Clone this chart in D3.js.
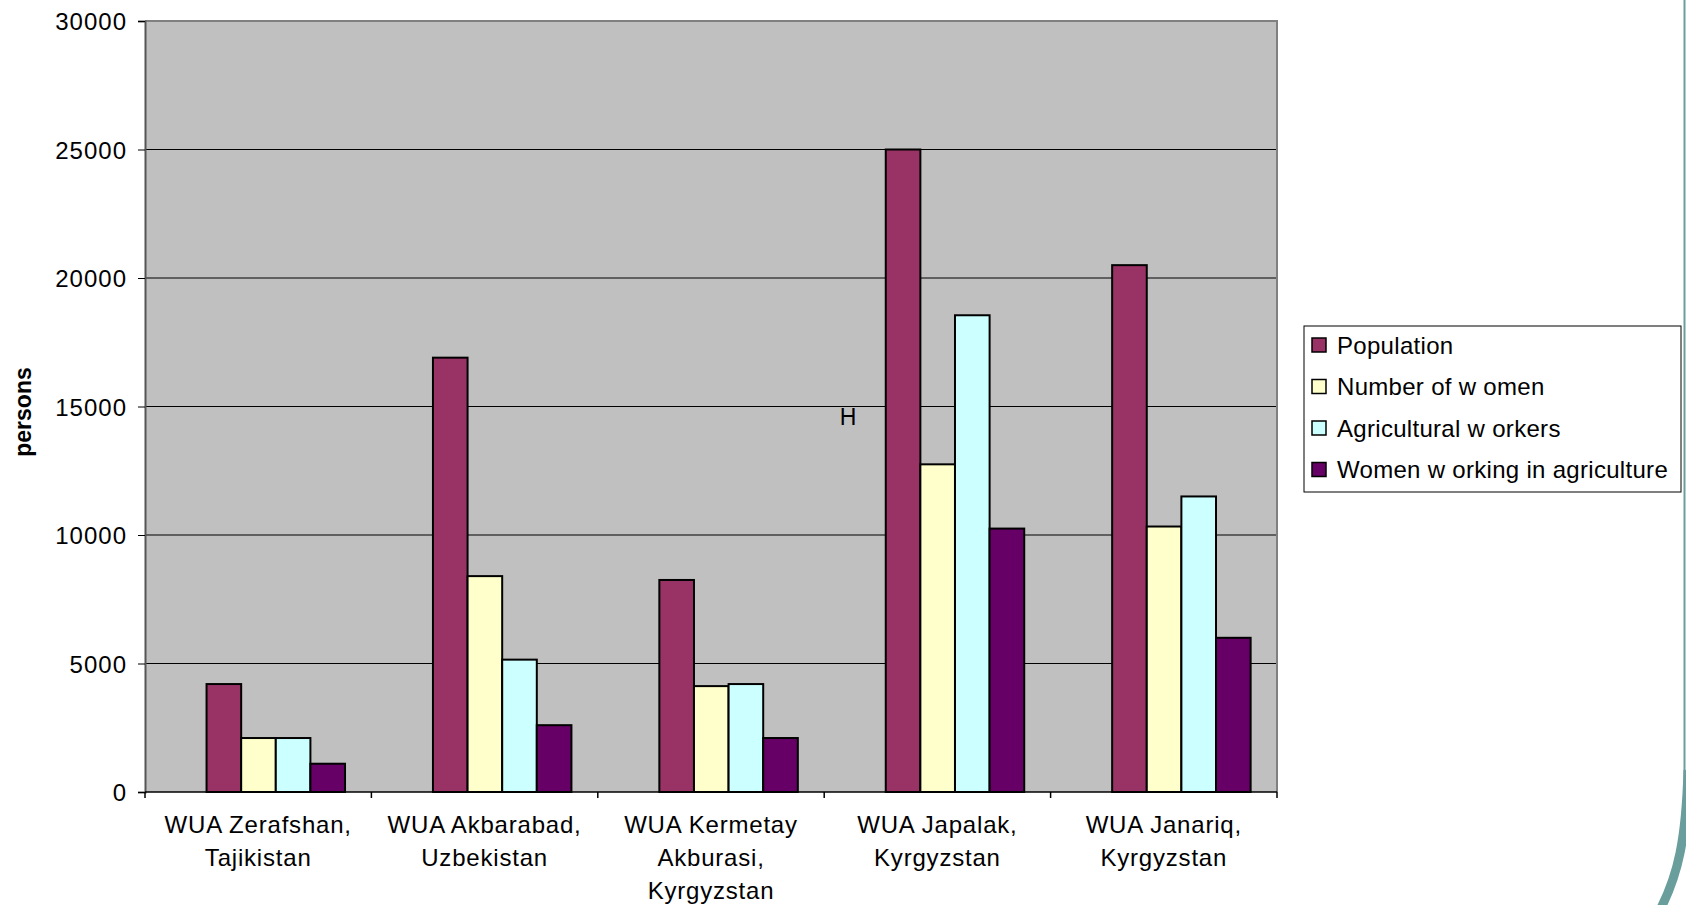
<!DOCTYPE html>
<html>
<head>
<meta charset="utf-8">
<script src="https://cdn.jsdelivr.net/npm/d3@7"></script>
<style>
  html, body { margin: 0; padding: 0; background: #fff; }
  svg { display: block; font-family: "Liberation Sans", Arial, sans-serif; }
</style>
</head>
<body>
<svg width="1686" height="905"></svg>
<script>
// data
var categories = [
    ["WUA Zerafshan,", "Tajikistan"],
    ["WUA Akbarabad,", "Uzbekistan"],
    ["WUA Kermetay", "Akburasi,", "Kyrgyzstan"],
    ["WUA Japalak,", "Kyrgyzstan"],
    ["WUA Janariq,", "Kyrgyzstan"]
];
var seriesNames = ["Population", "Number of w omen", "Agricultural w orkers", "Women w orking in agriculture"];
var seriesColors = ["#993366", "#FFFFCC", "#CCFFFF", "#660066"];

var population = [4200, 16900, 8250, 25000, 20500];
var numberOfWomen = [2100, 8400, 4120, 12750, 10330];
var agriWorkers = [2100, 5150, 4200, 18550, 11500];
var womenInAgri = [1100, 2600, 2100, 10250, 6000];

var yTicks = [0, 5000, 10000, 15000, 20000, 25000, 30000];

var series = [population, numberOfWomen, agriWorkers, womenInAgri];

/* layout */
var svg = d3.select("svg");
var plot = { left: 145, right: 1277, top: 21, bottom: 792 };

var x0 = d3.scaleBand()
    .domain(d3.range(categories.length))
    .range([plot.left, plot.right])
    .padding(0);

// bars sit a little right of the category centre, as in the original
var x1 = d3.scaleBand()
    .domain(d3.range(series.length))
    .range([0, x0.bandwidth()])
    .paddingInner(0)
    .paddingOuter(1.27)
    .align(0.7);

var y = d3.scaleLinear()
    .domain([0, 30000])
    .range([plot.bottom, plot.top]);

// plot background
svg.append("rect")
    .attr("x", plot.left).attr("y", plot.top)
    .attr("width", plot.right - plot.left)
    .attr("height", plot.bottom - plot.top)
    .attr("fill", "#C0C0C0");

// gridlines
svg.append("g")
    .selectAll("line")
    .data(yTicks.filter(function (d) { return d > 0 && d < 30000; }))
    .join("line")
    .attr("x1", plot.left).attr("x2", plot.right)
    .attr("y1", function (d) { return y(d); })
    .attr("y2", function (d) { return y(d); })
    .attr("stroke", "#000")
    .attr("stroke-width", 1);

// plot border top/right
svg.append("path")
    .attr("d", "M" + plot.left + "," + plot.top + "H" + plot.right + "V" + plot.bottom)
    .attr("fill", "none")
    .attr("stroke", "#808080")
    .attr("stroke-width", 2);

// bars
var groups = svg.append("g")
    .selectAll("g")
    .data(categories)
    .join("g")
    .attr("transform", function (d, i) { return "translate(" + x0(i) + ",0)"; });

groups.selectAll("rect")
    .data(function (d, i) { return series.map(function (s, j) { return { s: j, v: s[i] }; }); })
    .join("rect")
    .attr("x", function (d) { return x1(d.s); })
    .attr("width", x1.bandwidth())
    .attr("y", function (d) { return y(d.v); })
    .attr("height", function (d) { return y(0) - y(d.v); })
    .attr("fill", function (d) { return seriesColors[d.s]; })
    .attr("stroke", "#000")
    .attr("stroke-width", 2);

// y axis
var yAxis = svg.append("g")
    .attr("transform", "translate(" + plot.left + ",0)")
    .call(d3.axisLeft(y).tickValues(yTicks).tickSize(7).tickPadding(11).tickFormat(d3.format("d")));
yAxis.select(".domain").attr("stroke", "#555").attr("stroke-width", 2);
yAxis.selectAll(".tick line").attr("stroke", "#000");
yAxis.selectAll(".tick text")
    .attr("font-size", 24)
    .attr("letter-spacing", 1)
    .attr("fill", "#000")
    .attr("font-family", "'Liberation Sans', Arial, sans-serif")
    .attr("dy", "0.36em");

// x axis
svg.append("line")
    .attr("x1", plot.left).attr("x2", plot.right)
    .attr("y1", plot.bottom).attr("y2", plot.bottom)
    .attr("stroke", "#000").attr("stroke-width", 1.5);

svg.append("g")
    .selectAll("line")
    .data(d3.range(categories.length + 1))
    .join("line")
    .attr("x1", function (i) { return plot.left + i * x0.step(); })
    .attr("x2", function (i) { return plot.left + i * x0.step(); })
    .attr("y1", plot.bottom).attr("y2", plot.bottom + 6)
    .attr("stroke", "#000").attr("stroke-width", 1.5);

var xLabels = svg.append("g")
    .selectAll("text")
    .data(categories)
    .join("text")
    .attr("x", function (d, i) { return x0(i) + x0.bandwidth() / 2; })
    .attr("y", 833)
    .attr("text-anchor", "middle")
    .attr("font-size", 24)
    .attr("letter-spacing", 0.8)
    .attr("fill", "#000");

xLabels.selectAll("tspan")
    .data(function (d) { return d; })
    .join("tspan")
    .attr("x", function () { return d3.select(this.parentNode).attr("x"); })
    .attr("dy", function (d, i) { return i === 0 ? 0 : 33; })
    .text(function (d) { return d; });

// y axis title
svg.append("text")
    .attr("transform", "translate(31,412) rotate(-90)")
    .attr("text-anchor", "middle")
    .attr("font-size", 23)
    .attr("font-weight", "bold")
    .attr("fill", "#000")
    .text("persons");

// stray "H" in the plot
svg.append("text")
    .attr("x", 848).attr("y", 425)
    .attr("text-anchor", "middle")
    .attr("font-size", 23)
    .attr("fill", "#000")
    .text("H");

// legend
var legend = svg.append("g").attr("transform", "translate(1304,326)");
legend.append("rect")
    .attr("width", 377).attr("height", 166)
    .attr("fill", "#fff")
    .attr("stroke", "#000").attr("stroke-width", 1);

var items = legend.selectAll("g")
    .data(seriesNames)
    .join("g")
    .attr("transform", function (d, i) { return "translate(0," + (19 + i * 41.5) + ")"; });

items.append("rect")
    .attr("x", 8).attr("y", -7)
    .attr("width", 14).attr("height", 14)
    .attr("fill", function (d, i) { return seriesColors[i]; })
    .attr("stroke", "#000").attr("stroke-width", 1.5);

items.append("text")
    .attr("x", 33).attr("y", 0)
    .attr("dy", "0.36em")
    .attr("font-size", 24)
    .attr("letter-spacing", 0.3)
    .attr("fill", "#000")
    .text(function (d) { return d; });

// slide decoration at the right edge
svg.append("path")
    .attr("d", "M1684.5,0 V790")
    .attr("stroke", "#6A9E9C").attr("stroke-width", 2).attr("fill", "none");
svg.append("path")
    .attr("d", "M1688,770 C1686,840 1678,875 1660,910")
    .attr("stroke", "#6A9E9C").attr("stroke-width", 9).attr("fill", "none");
</script>
</body>
</html>
